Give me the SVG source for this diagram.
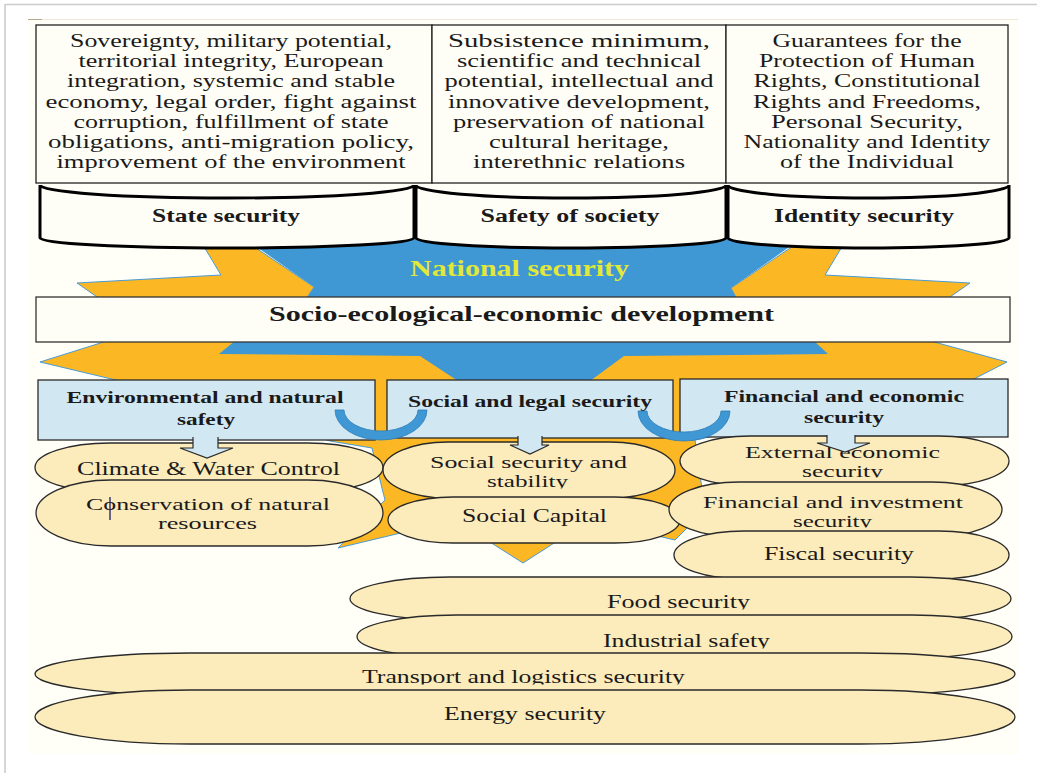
<svg xmlns="http://www.w3.org/2000/svg" width="1037" height="773" viewBox="0 0 1037 773">
<style>
text{font-family:"Liberation Serif","Times New Roman",serif;fill:#1a1a1a;text-anchor:middle}
.r{font-size:19.5px}
.r2{font-size:16px}
.b{font-weight:bold;font-size:19.5px}
.bs{font-weight:bold;font-size:17.5px}
.box{fill:#FFFEF6;stroke:#222;stroke-width:1.3}
.cyl{fill:#FFFEF6;stroke:#000;stroke-width:3}
.lb{fill:#D1E7F1;stroke:#2a2a2a;stroke-width:1.3}
.el{fill:#FCEBBB;stroke:#2a2a2a;stroke-width:1.3}
.yel{fill:#FBB824;stroke:#4A9BD4;stroke-width:1}
.blu{fill:#3F97D3}
.arc{fill:#3F97D3;stroke:#2E7FBA;stroke-width:0.8}
.arw{fill:#D1E7F1;stroke:#2a2a2a;stroke-width:1.2}
</style>
<defs>
<clipPath id="c1"><rect x="380" y="470" width="300" height="18.5"/></clipPath>
<clipPath id="c2"><rect x="680" y="462" width="330" height="15.5"/></clipPath>
<clipPath id="c3"><rect x="669" y="512" width="340" height="15.5"/></clipPath>
<clipPath id="c4"><rect x="350" y="585" width="660" height="24.5"/></clipPath>
<clipPath id="c5"><rect x="355" y="625" width="660" height="23.5"/></clipPath>
<clipPath id="c6"><rect x="35" y="660" width="980" height="24.5"/></clipPath>
</defs>
<rect x="0" y="0" width="1037" height="773" fill="#fff"/>
<line x1="5" y1="4.5" x2="1037" y2="4.5" stroke="#cccccc" stroke-width="1.6"/>
<line x1="5" y1="4" x2="5" y2="773" stroke="#cccccc" stroke-width="1.6"/>
<rect x="28" y="19" width="990" height="735" fill="#FFFEF7"/>
<line x1="28" y1="19.5" x2="1018" y2="19.5" stroke="#efe8d8" stroke-width="1"/>
<line x1="28" y1="19.5" x2="42" y2="19.5" stroke="#b9a98c" stroke-width="1"/>

<g id="connectors">
<polygon class="blu" points="244,238 802,238 731,288 737,299 306,299 314,287"/>
<polygon class="yel" points="200,240 244,240 314,287 306,299 100,299 77,283 221,275"/>
<polygon class="yel" points="846,240 802,240 731,288 737,299 947,299 970,283 825,275"/>
<polygon class="yel" points="110,340 927,340 1007,362 970,381 695,440 705,510 675,540 590,520 523,563 455,520 338,548 385,500 372,448 330,441 120,381 40,362"/>
<polygon class="blu" points="236,340 813,340 828,354 624,356 590,381 458,381 420,356 219,354"/>
</g>

<g id="n-state-text">
<rect class="box" x="36" y="25" width="396" height="158"/>
<text class="r" x="231" y="47" textLength="322" lengthAdjust="spacingAndGlyphs">Sovereignty, military potential,</text>
<text class="r" x="231" y="67.2" textLength="305" lengthAdjust="spacingAndGlyphs">territorial integrity, European</text>
<text class="r" x="231" y="87.4" textLength="328" lengthAdjust="spacingAndGlyphs">integration, systemic and stable</text>
<text class="r" x="231" y="107.6" textLength="371" lengthAdjust="spacingAndGlyphs">economy, legal order, fight against</text>
<text class="r" x="231" y="127.8" textLength="315" lengthAdjust="spacingAndGlyphs">corruption, fulfillment of state</text>
<text class="r" x="231" y="148" textLength="366" lengthAdjust="spacingAndGlyphs">obligations, anti-migration policy,</text>
<text class="r" x="231" y="168.2" textLength="349" lengthAdjust="spacingAndGlyphs">improvement of the environment</text>
</g>
<g id="n-society-text">
<rect class="box" x="432" y="25" width="294" height="158"/>
<text class="r" x="579" y="47" textLength="262" lengthAdjust="spacingAndGlyphs">Subsistence minimum,</text>
<text class="r" x="579" y="67.2" textLength="244" lengthAdjust="spacingAndGlyphs">scientific and technical</text>
<text class="r" x="579" y="87.4" textLength="269" lengthAdjust="spacingAndGlyphs">potential, intellectual and</text>
<text class="r" x="579" y="107.6" textLength="262" lengthAdjust="spacingAndGlyphs">innovative development,</text>
<text class="r" x="579" y="127.8" textLength="252" lengthAdjust="spacingAndGlyphs">preservation of national</text>
<text class="r" x="579" y="148" textLength="180" lengthAdjust="spacingAndGlyphs">cultural heritage,</text>
<text class="r" x="579" y="168.2" textLength="212" lengthAdjust="spacingAndGlyphs">interethnic relations</text>
</g>
<g id="n-identity-text">
<rect class="box" x="726" y="25" width="282" height="158"/>
<text class="r" x="867" y="47" textLength="189" lengthAdjust="spacingAndGlyphs">Guarantees for the</text>
<text class="r" x="867" y="67.2" textLength="216" lengthAdjust="spacingAndGlyphs">Protection of Human</text>
<text class="r" x="867" y="87.4" textLength="227" lengthAdjust="spacingAndGlyphs">Rights, Constitutional</text>
<text class="r" x="867" y="107.6" textLength="228" lengthAdjust="spacingAndGlyphs">Rights and Freedoms,</text>
<text class="r" x="867" y="127.8" textLength="192" lengthAdjust="spacingAndGlyphs">Personal Security,</text>
<text class="r" x="867" y="148" textLength="247" lengthAdjust="spacingAndGlyphs">Nationality and Identity</text>
<text class="r" x="867" y="168.2" textLength="174" lengthAdjust="spacingAndGlyphs">of the Individual</text>
</g>

<g id="n-state-security">
<path class="cyl" d="M40,185 A187,13 0 0 0 414,185 L414,238 A187,10 0 0 1 40,238 Z"/>
<text class="b" x="226" y="222" textLength="148" lengthAdjust="spacingAndGlyphs">State security</text>
</g>
<g id="n-safety-society">
<path class="cyl" d="M416,185 A155,13 0 0 0 726,185 L726,238 A155,10 0 0 1 416,238 Z"/>
<text class="b" x="570" y="222" textLength="179" lengthAdjust="spacingAndGlyphs">Safety of society</text>
</g>
<g id="n-identity-security">
<path class="cyl" d="M728,185 A140.5,13 0 0 0 1009,185 L1009,238 A140.5,10 0 0 1 728,238 Z"/>
<text class="b" x="864" y="222" textLength="180" lengthAdjust="spacingAndGlyphs">Identity security</text>
</g>

<g id="n-national-security">
<text x="519.5" y="276" style="font-weight:bold;font-size:23px;fill:#E2E838" textLength="219" lengthAdjust="spacingAndGlyphs">National security</text>
</g>

<g id="n-socio">
<rect class="box" x="36" y="297" width="974" height="45" style="stroke:#333"/>
<text x="521.5" y="321" style="font-weight:bold;font-size:21.5px" textLength="505" lengthAdjust="spacingAndGlyphs">Socio-ecological-economic development</text>
</g>

<g id="n-env">
<rect class="lb" x="38" y="380" width="337" height="60"/>
<text class="bs" x="205" y="403" textLength="277" lengthAdjust="spacingAndGlyphs">Environmental and natural</text>
<text class="bs" x="206" y="425" textLength="58" lengthAdjust="spacingAndGlyphs">safety</text>
</g>
<g id="n-social-legal">
<rect class="lb" x="387" y="380" width="286" height="58"/>
<text class="bs" x="530" y="407" textLength="244" lengthAdjust="spacingAndGlyphs">Social and legal security</text>
</g>
<g id="n-fin-econ">
<rect class="lb" x="680" y="379" width="328" height="58"/>
<text class="bs" x="844" y="402" textLength="240" lengthAdjust="spacingAndGlyphs">Financial and economic</text>
<text class="bs" x="844" y="423" textLength="80" lengthAdjust="spacingAndGlyphs">security</text>
</g>

<g id="n-climate">
<rect class="el" x="35" y="443" width="348" height="49" rx="75" ry="24.5"/>
<text class="r" x="208.5" y="475" textLength="263" lengthAdjust="spacingAndGlyphs">Climate &amp; Water Control</text>
</g>
<g id="n-conservation">
<rect class="el" x="36" y="480" width="347" height="66" rx="75" ry="33"/>
<text class="r2" x="208" y="510" textLength="244" lengthAdjust="spacingAndGlyphs">Conservation of natural</text>
<text class="r2" x="207.5" y="529" textLength="99" lengthAdjust="spacingAndGlyphs">resources</text>
<line x1="110" y1="497" x2="110" y2="520" stroke="#1a1a6a" stroke-width="1.3"/>
</g>
<g id="n-social-stability">
<rect class="el" x="383" y="442" width="292" height="56" rx="65" ry="28"/>
<text class="r2" x="528.5" y="468" textLength="197" lengthAdjust="spacingAndGlyphs">Social security and</text>
<text class="r2" x="527.5" y="487" textLength="81" lengthAdjust="spacingAndGlyphs" clip-path="url(#c1)">stability</text>
</g>
<g id="n-social-capital">
<rect class="el" x="388" y="497" width="292" height="46" rx="65" ry="23"/>
<text class="r" x="534.5" y="522" textLength="145" lengthAdjust="spacingAndGlyphs">Social Capital</text>
</g>
<g id="n-external">
<rect class="el" x="680" y="436" width="329" height="50" rx="70" ry="25"/>
<text class="r2" x="842.5" y="458" textLength="195" lengthAdjust="spacingAndGlyphs">External economic</text>
<text class="r2" x="842.5" y="476.5" textLength="81" lengthAdjust="spacingAndGlyphs" clip-path="url(#c2)">security</text>
</g>
<g id="n-fin-invest">
<rect class="el" x="669" y="482" width="333" height="55" rx="70" ry="27.5"/>
<text class="r2" x="833" y="508" textLength="260" lengthAdjust="spacingAndGlyphs">Financial and investment</text>
<text class="r2" x="832.5" y="526.5" textLength="79" lengthAdjust="spacingAndGlyphs" clip-path="url(#c3)">security</text>
</g>
<g id="n-fiscal">
<rect class="el" x="674" y="531" width="335" height="48" rx="70" ry="24"/>
<text class="r" x="839" y="560" textLength="150" lengthAdjust="spacingAndGlyphs">Fiscal security</text>
</g>
<g id="n-food">
<rect class="el" x="350" y="577" width="661" height="43" rx="100" ry="21.5"/>
<text class="r" x="678.5" y="608" textLength="143" lengthAdjust="spacingAndGlyphs" clip-path="url(#c4)">Food security</text>
</g>
<g id="n-industrial">
<rect class="el" x="357" y="615" width="655" height="43" rx="100" ry="21.5"/>
<text class="r" x="686.5" y="647" textLength="167" lengthAdjust="spacingAndGlyphs" clip-path="url(#c5)">Industrial safety</text>
</g>
<g id="n-transport">
<rect class="el" x="35" y="653" width="980" height="42" rx="155" ry="21"/>
<text class="r" x="523.5" y="683" textLength="323" lengthAdjust="spacingAndGlyphs" clip-path="url(#c6)">Transport and logistics security</text>
</g>
<g id="n-energy">
<rect class="el" x="35" y="690" width="980" height="54" rx="155" ry="27"/>
<text class="r" x="525" y="720" textLength="162" lengthAdjust="spacingAndGlyphs">Energy security</text>
</g>

<g id="connectors-front">
<path class="arw" d="M193,437 L193,448 L180,448 L207,458 L233,448 L218,448 L218,437"/>
<path class="arw" d="M518,436 L518,445 L510,445 L530,454 L549,445 L542,445 L542,436"/>
<path class="arw" d="M827,435 L827,443 L817,443 L845,452 L870,443 L855,443 L855,435"/>
<path class="arc" d="M335,410 A46,30 0 0 0 427,410 L418,410 A37,21 0 0 1 344,410 Z"/>
<path class="arc" d="M638,411 A46,30 0 0 0 730,411 L721,411 A37,21 0 0 1 647,411 Z"/>
</g>
</svg>
